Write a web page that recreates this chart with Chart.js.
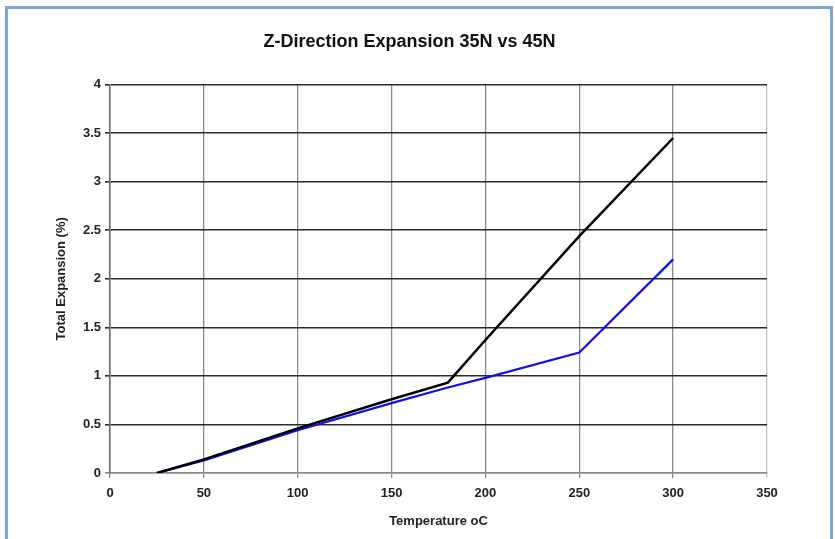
<!DOCTYPE html>
<html>
<head>
<meta charset="utf-8">
<script src="https://cdn.jsdelivr.net/npm/chart.js@4"></script>
<style>
  html, body { margin: 0; padding: 0; background: #fff; }
  #wrap { position: relative; width: 835px; height: 539px; overflow: hidden; }
  #frame {
    position: absolute; left: 5px; top: 6px; width: 822px; height: 560px;
    border: 3px solid #7ba7dc;
  }
  #chart-id { position: absolute; left: 0; top: 0; }
</style>
</head>
<body>
<div id="wrap">
  <div id="frame"></div>
  <canvas id="chart-id" width="835" height="539"></canvas>
</div>
<script>
// data
const temperatures = [25, 50, 100, 150, 180, 200, 250, 300];
const expansion35N = [0, 0.14, 0.46, 0.76, 0.93, 1.37, 2.44, 3.45];
const expansion45N = [0, 0.13, 0.44, 0.72, 0.88, 0.98, 1.24, 2.2];
const xTicks = [0, 50, 100, 150, 200, 250, 300, 350];
const yTicks = [0, 0.5, 1, 1.5, 2, 2.5, 3, 3.5, 4];

const toPoints = (xs, ys) => xs.map((x, i) => ({ x: x, y: ys[i] }));
const FONT = 'Arial, "Liberation Sans", sans-serif';

function initChart() {
  const ctx = document.getElementById('chart-id');
  new Chart(ctx, {
    type: 'line',
    data: {
      datasets: [
        {
          label: '35N',
          data: toPoints(temperatures, expansion35N),
          borderColor: '#000000',
          borderWidth: 2.5,
          pointRadius: 0,
          tension: 0,
          fill: false
        },
        {
          label: '45N',
          data: toPoints(temperatures, expansion45N),
          borderColor: '#1010e8',
          borderWidth: 2.2,
          pointRadius: 0,
          tension: 0,
          fill: false
        }
      ]
    },
    options: {
      responsive: false,
      animation: false,
      layout: { padding: { left: 52, right: 68, top: 30, bottom: 8 } },
      plugins: {
        legend: { display: false },
        tooltip: { enabled: false },
        title: {
          display: true,
          text: 'Z-Direction Expansion 35N vs 45N',
          color: '#111',
          font: { family: FONT, size: 18, weight: 'bold' },
          padding: { top: 1, bottom: 32 }
        }
      },
      scales: {
        x: {
          type: 'linear',
          min: xTicks[0],
          max: xTicks[xTicks.length - 1],
          afterBuildTicks: axis => { axis.ticks = xTicks.map(v => ({ value: v })); },
          afterFit: axis => { axis.height = 58; },
          ticks: {
            color: '#222',
            font: { family: FONT, size: 13, weight: 'bold' },
            padding: 8,
            maxRotation: 0,
            callback: v => String(v)
          },
          grid: {
            color: c => (c.tick && c.tick.value === 350 ? '#c4c4c4' : '#8a8a8a'),
            lineWidth: 1.3,
            tickLength: 5
          },
          border: { color: '#8a8a8a', width: 1.5 },
          title: {
            display: true,
            text: 'Temperature oC',
            color: '#222',
            font: { family: FONT, size: 13, weight: 'bold' },
            padding: { top: 4, bottom: 2 }
          }
        },
        y: {
          min: yTicks[0],
          max: yTicks[yTicks.length - 1],
          afterBuildTicks: axis => { axis.ticks = yTicks.map(v => ({ value: v })); },
          afterFit: axis => { axis.width = 58; },
          ticks: {
            color: '#222',
            font: { family: FONT, size: 13, weight: 'bold' },
            padding: 4,
            callback: v => String(v)
          },
          grid: {
            color: c => (c.tick && c.tick.value === 0 ? '#8a8a8a' : '#2a2a2a'),
            lineWidth: 1.6,
            tickLength: 5
          },
          border: { color: '#6a6a6a', width: 1.5 },
          title: {
            display: true,
            text: 'Total Expansion (%)',
            color: '#222',
            font: { family: FONT, size: 13, weight: 'bold' },
            padding: { top: 2, bottom: 0 }
          }
        }
      }
    }
  });
}

document.addEventListener('DOMContentLoaded', initChart);
</script>
</body>
</html>
